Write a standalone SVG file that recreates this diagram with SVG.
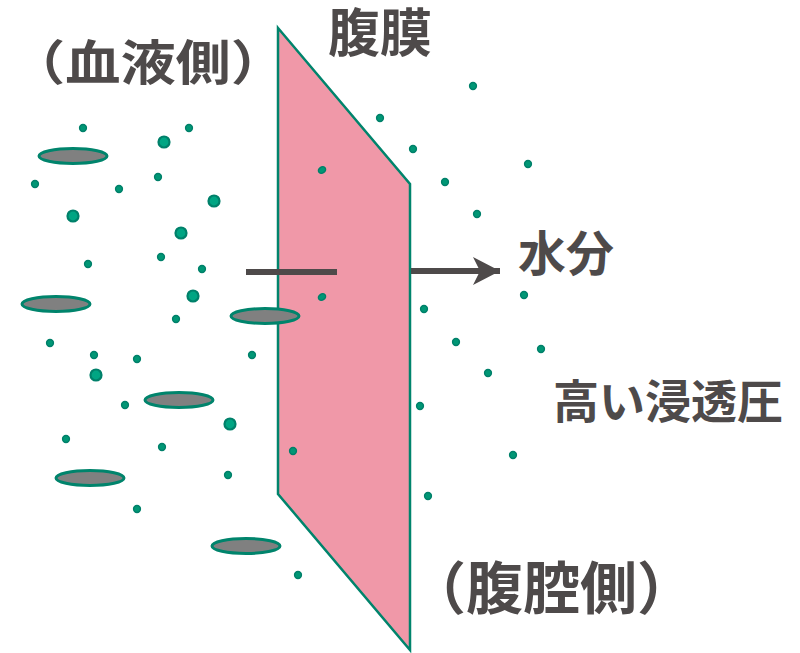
<svg xmlns="http://www.w3.org/2000/svg" width="800" height="653" viewBox="0 0 800 653">
  <defs>
    <style>
      .membrane { fill: #f098a8; stroke: #00846c; stroke-width: 2.5; stroke-linejoin: miter; }
      .cell { fill: #808080; stroke: #00846c; stroke-width: 3; }
      .dot { fill: #009775; stroke: #00806a; stroke-width: 1.5; }
      .big { fill: #00a583; stroke: #00806a; stroke-width: 2.2; }
      .label { font-family: "Noto Sans CJK JP", "Noto Sans", sans-serif; font-weight: bold; fill: #4e4a4a; }
      .bar { stroke: #4e4a4a; stroke-width: 6; fill: none; }
    </style>
    <marker id="head" markerUnits="userSpaceOnUse" markerWidth="32" markerHeight="32" viewBox="0 0 32 32" refX="29" refY="16" orient="auto">
      <path d="M2,2 L29,16 L2,30 L9,16 Z" fill="#4e4a4a"/>
    </marker>
  </defs>
  <rect width="800" height="653" fill="#ffffff"/>

  <!-- peritoneum sheet -->
  <g id="membrane">
    <polygon class="membrane" points="278,28 410,184 410,650 278,494"/>
  </g>

  <!-- blood cells -->
  <g id="cells">
    <ellipse class="cell" cx="73" cy="156" rx="34" ry="7.5"/>
    <ellipse class="cell" cx="56" cy="304" rx="34" ry="7.5"/>
    <ellipse class="cell" cx="265" cy="316" rx="34" ry="7.5"/>
    <ellipse class="cell" cx="179" cy="400" rx="34" ry="7.5"/>
    <ellipse class="cell" cx="90" cy="478" rx="34" ry="7.5"/>
    <ellipse class="cell" cx="246" cy="546" rx="34" ry="7.5"/>
  </g>

  <!-- solutes, blood side -->
  <g id="solutes-blood">
    <circle class="dot" cx="83" cy="128" r="3.4"/>
    <circle class="dot" cx="189" cy="128" r="3.4"/>
    <circle class="big" cx="164" cy="142" r="5.5"/>
    <circle class="dot" cx="35" cy="184" r="3.4"/>
    <circle class="dot" cx="158" cy="177" r="3.4"/>
    <circle class="dot" cx="119" cy="189" r="3.4"/>
    <circle class="big" cx="214" cy="201" r="5.5"/>
    <circle class="big" cx="73" cy="216" r="5.5"/>
    <circle class="big" cx="181" cy="233" r="5.5"/>
    <circle class="dot" cx="161" cy="257" r="3.4"/>
    <circle class="dot" cx="88" cy="264" r="3.4"/>
    <circle class="dot" cx="202" cy="269" r="3.4"/>
    <circle class="big" cx="193" cy="296" r="5.5"/>
    <circle class="dot" cx="176" cy="319" r="3.4"/>
    <circle class="dot" cx="50" cy="343" r="3.4"/>
    <circle class="dot" cx="94" cy="355" r="3.4"/>
    <circle class="dot" cx="137" cy="359" r="3.4"/>
    <circle class="dot" cx="252" cy="355" r="3.4"/>
    <circle class="big" cx="96" cy="375" r="5.5"/>
    <circle class="dot" cx="125" cy="405" r="3.4"/>
    <circle class="big" cx="230" cy="424" r="5.5"/>
    <circle class="dot" cx="66" cy="439" r="3.4"/>
    <circle class="dot" cx="162" cy="447" r="3.4"/>
    <circle class="dot" cx="228" cy="475" r="3.4"/>
    <circle class="dot" cx="137" cy="509" r="3.4"/>
    <circle class="dot" cx="298" cy="575" r="3.4"/>
  </g>

  <!-- solutes within the membrane -->
  <g id="solutes-membrane">
    <ellipse class="dot" cx="322" cy="170" rx="3.8" ry="3" transform="rotate(-35 322 170)"/>
    <ellipse class="dot" cx="322" cy="297" rx="3.8" ry="3" transform="rotate(-35 322 297)"/>
    <circle class="dot" cx="293" cy="451" r="3.4"/>
  </g>

  <!-- solutes, peritoneal cavity side -->
  <g id="solutes-cavity">
    <circle class="dot" cx="380" cy="118" r="3.4"/>
    <circle class="dot" cx="473" cy="86" r="3.4"/>
    <circle class="dot" cx="413" cy="149" r="3.4"/>
    <circle class="dot" cx="528" cy="164" r="3.4"/>
    <circle class="dot" cx="445" cy="182" r="3.4"/>
    <circle class="dot" cx="477" cy="214" r="3.4"/>
    <circle class="dot" cx="524" cy="295" r="3.4"/>
    <circle class="dot" cx="424" cy="309" r="3.4"/>
    <circle class="dot" cx="456" cy="342" r="3.4"/>
    <circle class="dot" cx="541" cy="349" r="3.4"/>
    <circle class="dot" cx="488" cy="373" r="3.4"/>
    <circle class="dot" cx="420" cy="406" r="3.4"/>
    <circle class="dot" cx="513" cy="455" r="3.4"/>
    <circle class="dot" cx="428" cy="496" r="3.4"/>
  </g>

  <!-- water flow through the peritoneum -->
  <g id="connectors">
    <line class="bar" x1="246" y1="272" x2="337" y2="272"/>
    <line class="bar" x1="411" y1="271" x2="500" y2="271" marker-end="url(#head)"/>
  </g>

  <g id="label-blood"><text class="label" font-size="48" transform="translate(10 80) scale(1.15 1)">（血液側）</text></g>
  <g id="label-membrane"><text class="label" font-size="52" x="328" y="52">腹膜</text></g>
  <g id="label-water"><text class="label" font-size="48" x="518" y="271">水分</text></g>
  <g id="label-osmotic"><text class="label" font-size="46" x="553" y="418">高い浸透圧</text></g>
  <g id="label-cavity"><text class="label" font-size="57" x="409" y="609">（腹腔側）</text></g>
</svg>
